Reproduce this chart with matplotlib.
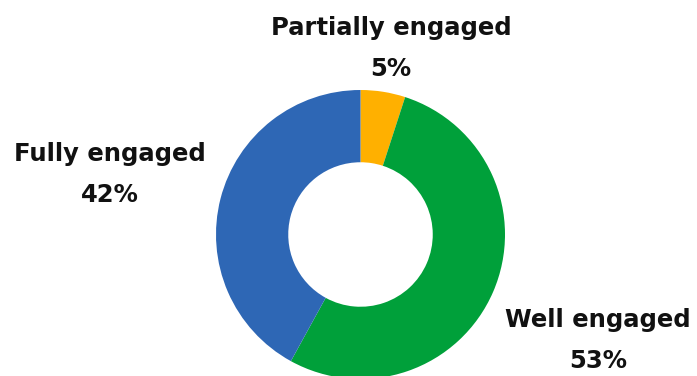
import matplotlib.pyplot as plt

categories = ["Partially engaged", "Well engaged", "Fully engaged"]
shares = [5, 53, 42]
colors = ["#FFB000", "#00A03A", "#2E67B5"]

W, H = 697, 376
fig = plt.figure(figsize=(W / 100, H / 100), dpi=100)
ax = fig.add_axes([0, 0, 1, 1])

cx, cy, r = 360.5, H - 234.5, 144.5
ax.pie(shares, colors=colors, startangle=90, counterclock=False,
       center=(cx, cy), radius=r, wedgeprops=dict(width=r * 0.5, linewidth=0),
       frame=True)
ax.set_xlim(0, W)
ax.set_ylim(0, H)
ax.set_aspect("equal")
ax.axis("off")

# label baselines (pixel coords, top-left origin)
label_pos = {"Partially engaged": (391, 35), "Well engaged": (598, 327),
             "Fully engaged": (110, 161)}
font = dict(fontsize=17.5, fontweight="bold", family="DejaVu Sans", color="#111111")
for cat, val in zip(categories, shares):
    x, y = label_pos[cat]
    ax.text(x, H - y, cat, ha="center", va="baseline", **font)
    ax.text(x, H - y - 41, f"{val}%", ha="center", va="baseline", **font)

fig.savefig("out.png", dpi=100)
